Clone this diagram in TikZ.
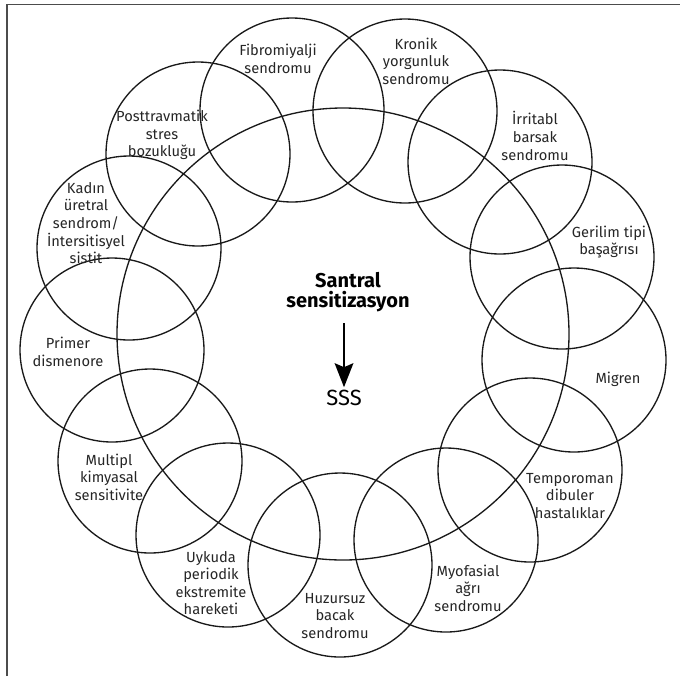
\documentclass[tikz,border=0pt]{standalone}
\usepackage{fontspec}
\setmainfont{Fira Sans}
\usetikzlibrary{arrows.meta}
\begin{document}
\begin{tikzpicture}[x=0.75pt,y=-0.75pt,
    ring/.style={draw=black!90,circle,line width=1pt,inner sep=0pt,minimum size=138pt},
    big ring/.style={ring,minimum size=339pt},
    disease/.style={align=center,text=black!85,inner sep=1pt,font=\fontsize{11}{13.2}\selectfont},
    core/.style={align=center,inner sep=1pt,font=\fontsize{16.5}{15.5}\selectfont},
  ]
\useasboundingbox (0,0) rectangle (680,676);
\draw[line width=1.1pt,black!70] (7,676) -- (7,4.5) -- (680,4.5);

% the big circle and the thirteen small ones
\node[big ring] (ss) at (343,334) {};
\node[ring] (fibro) at (292,110) {};
\node[ring] (kronik) at (405,111) {};
\node[ring] (ibs) at (500,162) {};
\node[ring] (gerilim) at (562,257) {};
\node[ring] (migren) at (574,360) {};
\node[ring] (tme) at (530,470) {};
\node[ring] (myo) at (446,540) {};
\node[ring] (huzursuz) at (340,565) {};
\node[ring] (uykuda) at (228,535) {};
\node[ring] (multipl) at (150,461) {};
\node[ring] (primer) at (112,350) {};
\node[ring] (kadin) at (129,248) {};
\node[ring] (ptsd) at (198,154) {};

% texts
\node[disease] (fibro text) at (278,59) {Fibromiyalji\\sendromu};
\node[disease] (kronik text) at (416,61) {Kronik\\yorgunluk\\sendromu};
\node[disease] (ibs text) at (535,136) {İrritabl\\barsak\\sendromu};
\node[disease] (gerilim text) at (609,242) {Gerilim tipi\\başağrısı};
\node[disease] (migren text) at (618,379) {Migren};
\node[disease] (tme text) at (570,496) {Temporoman\\dibuler\\hastalıklar};
\node[disease] (myo text) at (468,588) {Myofasial\\ağrı\\sendromu};
\node[disease] (huzursuz text) at (335,616) {Huzursuz\\bacak\\sendromu};
\node[disease] (uykuda text) at (211,583) {Uykuda\\periodik\\ekstremite\\hareketi};
\node[disease] (multipl text) at (109,477) {Multipl\\kimyasal\\sensitivite};
\node[disease] (primer text) at (68,352) {Primer\\dismenore};
\node[disease] (kadin text) at (86,223) {Kadın\\üretral\\sendrom/\\İntersitisyel\\sistit};
\node[disease] (ptsd text) at (162,135) {Posttravmatik\\stres\\bozukluğu};

\node[core,font=\fontsize{15}{15.5}\selectfont\bfseries] (sant) at (348,292) {Santral\\sensitizasyon};
\node[core] (sss) at (344,398) {SSS};
\draw[-{Stealth[length=18pt,width=14pt,inset=3pt]},line width=1.6pt,shorten <=7pt,shorten >=1pt]
  (sant.south -| sss) -- (sss.north);
\end{tikzpicture}
\end{document}
